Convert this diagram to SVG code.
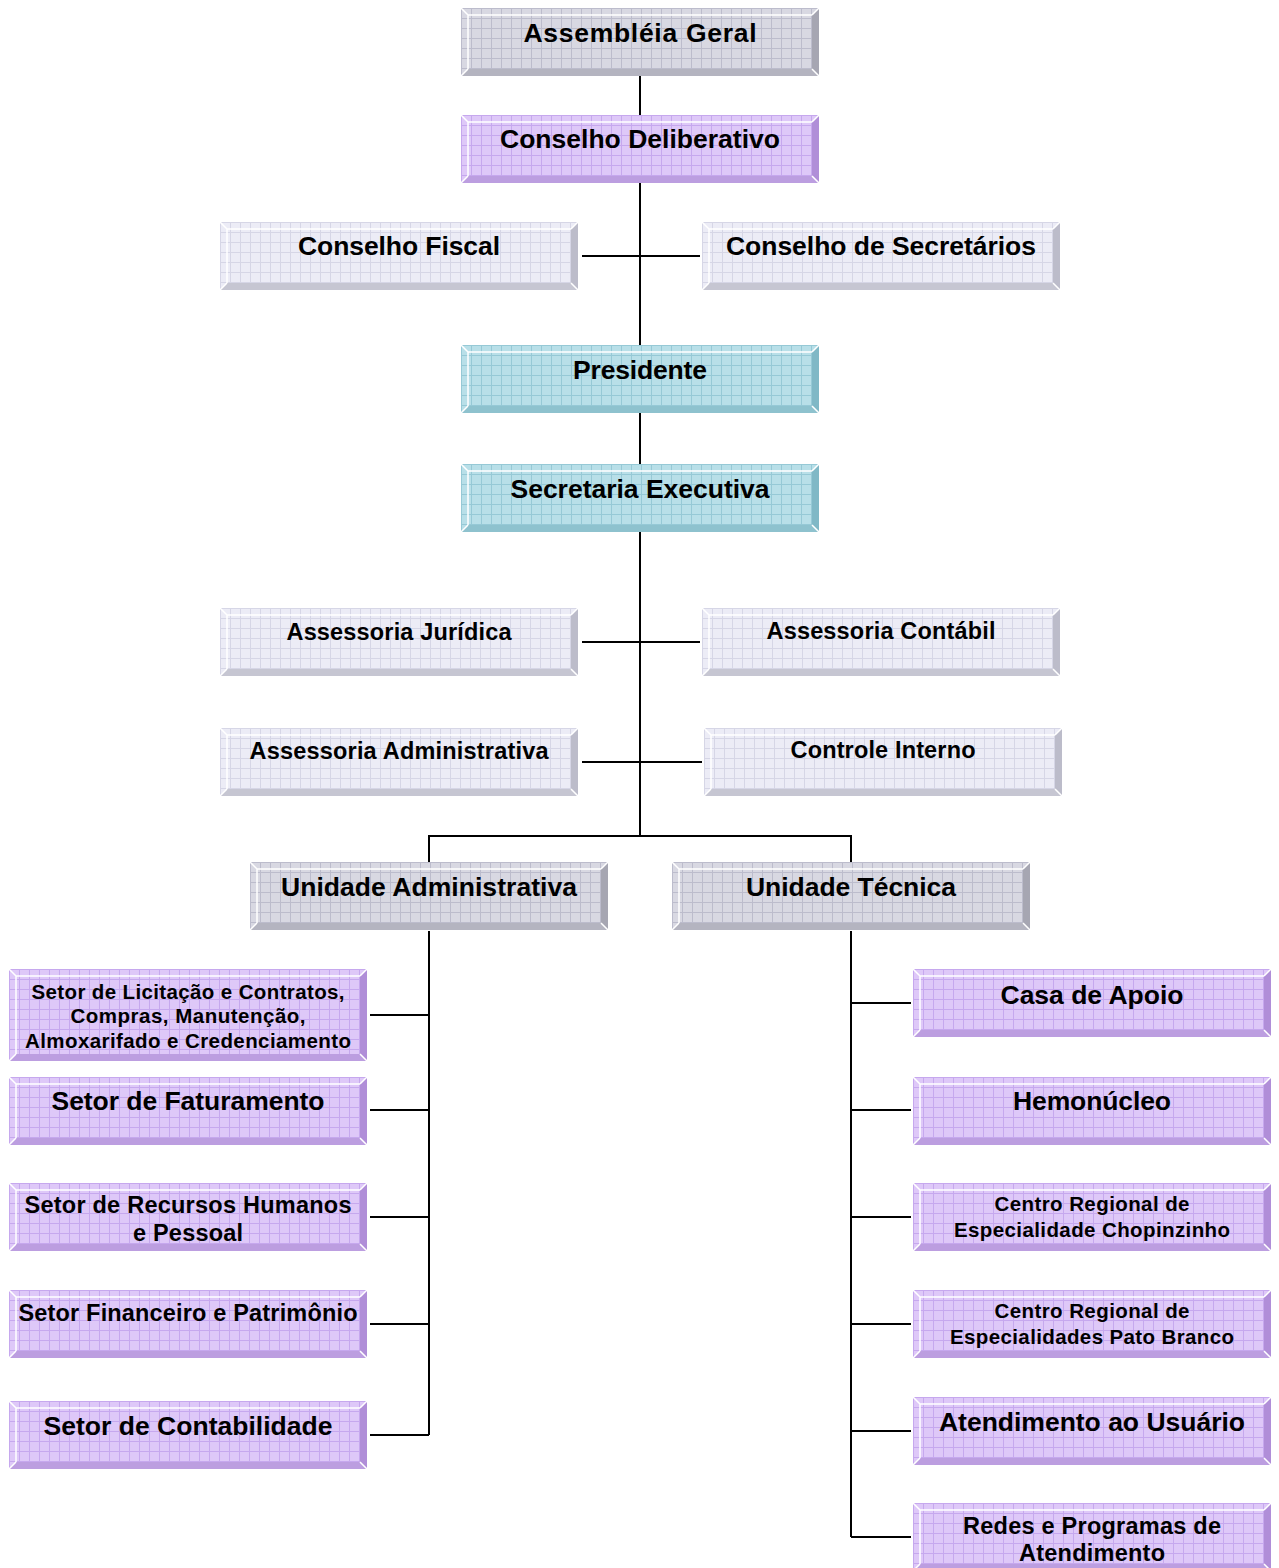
<svg xmlns="http://www.w3.org/2000/svg" xmlns:xlink="http://www.w3.org/1999/xlink" width="1279" height="1568" viewBox="0 0 1279 1568">
<style>
text{font-family:"Liberation Sans",Arial,sans-serif;font-weight:bold;fill:#000;text-anchor:middle}
.t1{font-size:26.5px}
.t2{font-size:23.5px}
.t3{font-size:20.5px}
.ln{stroke:#000;stroke-width:2;fill:none}
.w{fill:none;stroke:#fff;stroke-width:1.5}
</style>
<defs>
<pattern id="pg" width="10" height="10" patternUnits="userSpaceOnUse"><rect width="10" height="10" fill="#d8d8e2"/><path d="M0 .5H10M.5 0V10" stroke="#bcbccc" stroke-width="1"/></pattern>
<pattern id="pp" width="10" height="10" patternUnits="userSpaceOnUse"><rect width="10" height="10" fill="#dec8f8"/><path d="M0 .5H10M.5 0V10" stroke="#c6a8ee" stroke-width="1"/></pattern>
<pattern id="pt" width="10" height="10" patternUnits="userSpaceOnUse"><rect width="10" height="10" fill="#b8dfe8"/><path d="M0 .5H10M.5 0V10" stroke="#96c9d6" stroke-width="1"/></pattern>
<pattern id="pl" width="10" height="10" patternUnits="userSpaceOnUse"><rect width="10" height="10" fill="#ececf6"/><path d="M0 .5H10M.5 0V10" stroke="#d6d6e6" stroke-width="1"/></pattern>
<symbol id="bg" overflow="visible"><rect width="358" height="68" fill="url(#pg)"/><polygon points="358,0 358,68 351,61 351,7" fill="#a6a6b2"/><polygon points="0,68 7,61 351,61 358,68" fill="#b4b4c0"/><rect x="7" y="7" width="344" height="54" fill="url(#pg)"/><path class="w" d="M7 61V7H351M0 0L7 7M358 0L351 7M0 68L7 61M358 68L351 61"/></symbol>
<symbol id="bp" overflow="visible"><rect width="358" height="68" fill="url(#pp)"/><polygon points="358,0 358,68 351,61 351,7" fill="#b08ed8"/><polygon points="0,68 7,61 351,61 358,68" fill="#bc9ee0"/><rect x="7" y="7" width="344" height="54" fill="url(#pp)"/><path class="w" d="M7 61V7H351M0 0L7 7M358 0L351 7M0 68L7 61M358 68L351 61"/></symbol>
<symbol id="bp2" overflow="visible"><rect width="358" height="92" fill="url(#pp)"/><polygon points="358,0 358,92 351,85 351,7" fill="#b08ed8"/><polygon points="0,92 7,85 351,85 358,92" fill="#bc9ee0"/><rect x="7" y="7" width="344" height="78" fill="url(#pp)"/><path class="w" d="M7 85V7H351M0 0L7 7M358 0L351 7M0 92L7 85M358 92L351 85"/></symbol>
<symbol id="bt" overflow="visible"><rect width="358" height="68" fill="url(#pt)"/><polygon points="358,0 358,68 351,61 351,7" fill="#80b8c6"/><polygon points="0,68 7,61 351,61 358,68" fill="#8ec2ce"/><rect x="7" y="7" width="344" height="54" fill="url(#pt)"/><path class="w" d="M7 61V7H351M0 0L7 7M358 0L351 7M0 68L7 61M358 68L351 61"/></symbol>
<symbol id="bl" overflow="visible"><rect width="358" height="68" fill="url(#pl)"/><polygon points="358,0 358,68 351,61 351,7" fill="#bcbcca"/><polygon points="0,68 7,61 351,61 358,68" fill="#c6c6d2"/><rect x="7" y="7" width="344" height="54" fill="url(#pl)"/><path class="w" d="M7 61V7H351M0 0L7 7M358 0L351 7M0 68L7 61M358 68L351 61"/></symbol>
</defs>
<rect width="1279" height="1568" fill="#fff"/>
<g id="connectors">
<path class="ln" d="M640 75V115M640 183V345M582 256H700M640 412V464M640 532V836M582 642H700M582 762H702M429 862V836H851V862"/>
<path class="ln" d="M429 931V1435M370 1015H429M370 1110H429M370 1217H429M370 1324H429M370 1435H429"/>
<path class="ln" d="M851 931V1537M851 1003H911M851 1110H911M851 1217H911M851 1324H911M851 1431H911M851 1537H911"/>
</g>
<g id="n-assembleia"><use href="#bg" x="461" y="8"/><text class="t1" x="640" y="42" textLength="233" lengthAdjust="spacing">Assembléia Geral</text></g>
<g id="n-deliberativo"><use href="#bp" x="461" y="115"/><text class="t1" x="640" y="148" textLength="280" lengthAdjust="spacing">Conselho Deliberativo</text></g>
<g id="n-fiscal"><use href="#bl" x="220" y="222"/><text class="t1" x="399" y="255" textLength="202" lengthAdjust="spacing">Conselho Fiscal</text></g>
<g id="n-secretarios"><use href="#bl" x="702" y="222"/><text class="t1" x="881" y="255" textLength="310" lengthAdjust="spacing">Conselho de Secretários</text></g>
<g id="n-presidente"><use href="#bt" x="461" y="345"/><text class="t1" x="640" y="379" textLength="134" lengthAdjust="spacing">Presidente</text></g>
<g id="n-secretaria"><use href="#bt" x="461" y="464"/><text class="t1" x="640" y="498" textLength="259" lengthAdjust="spacing">Secretaria Executiva</text></g>
<g id="n-juridica"><use href="#bl" x="220" y="608"/><text class="t2" x="399" y="640" textLength="225" lengthAdjust="spacing">Assessoria Jurídica</text></g>
<g id="n-contabil"><use href="#bl" x="702" y="608"/><text class="t2" x="881" y="639" textLength="229" lengthAdjust="spacing">Assessoria Contábil</text></g>
<g id="n-administrativa"><use href="#bl" x="220" y="728"/><text class="t2" x="399" y="759" textLength="299" lengthAdjust="spacing">Assessoria Administrativa</text></g>
<g id="n-controle"><use href="#bl" x="704" y="728"/><text class="t2" x="883" y="758" textLength="185" lengthAdjust="spacing">Controle Interno</text></g>
<g id="n-unid-adm"><use href="#bg" x="250" y="862"/><text class="t1" x="429" y="896" textLength="296" lengthAdjust="spacing">Unidade Administrativa</text></g>
<g id="n-unid-tec"><use href="#bg" x="672" y="862"/><text class="t1" x="851" y="896" textLength="210" lengthAdjust="spacing">Unidade Técnica</text></g>
<g id="n-licitacao"><use href="#bp2" x="9" y="969"/><text class="t3" x="188" y="999" textLength="313" lengthAdjust="spacing">Setor de Licitação e Contratos,</text><text class="t3" x="188" y="1023" textLength="235" lengthAdjust="spacing">Compras, Manutenção,</text><text class="t3" x="188" y="1048" textLength="326" lengthAdjust="spacing">Almoxarifado e Credenciamento</text></g>
<g id="n-faturamento"><use href="#bp" x="9" y="1077"/><text class="t1" x="188" y="1110" textLength="273" lengthAdjust="spacing">Setor de Faturamento</text></g>
<g id="n-rh"><use href="#bp" x="9" y="1183"/><text class="t2" x="188" y="1213" textLength="327" lengthAdjust="spacing">Setor de Recursos Humanos</text><text class="t2" x="188" y="1241" textLength="110" lengthAdjust="spacing">e Pessoal</text></g>
<g id="n-financeiro"><use href="#bp" x="9" y="1290"/><text class="t2" x="188" y="1321" textLength="339" lengthAdjust="spacing">Setor Financeiro e Patrimônio</text></g>
<g id="n-contabilidade"><use href="#bp" x="9" y="1401"/><text class="t1" x="188" y="1435" textLength="289" lengthAdjust="spacing">Setor de Contabilidade</text></g>
<g id="n-casa"><use href="#bp" x="913" y="969"/><text class="t1" x="1092" y="1004" textLength="183" lengthAdjust="spacing">Casa de Apoio</text></g>
<g id="n-hemonucleo"><use href="#bp" x="913" y="1077"/><text class="t1" x="1092" y="1110" textLength="158" lengthAdjust="spacing">Hemonúcleo</text></g>
<g id="n-chopinzinho"><use href="#bp" x="913" y="1183"/><text class="t3" x="1092" y="1211" textLength="195" lengthAdjust="spacing">Centro Regional de</text><text class="t3" x="1092" y="1237" textLength="276" lengthAdjust="spacing">Especialidade Chopinzinho</text></g>
<g id="n-pato"><use href="#bp" x="913" y="1290"/><text class="t3" x="1092" y="1318" textLength="195" lengthAdjust="spacing">Centro Regional de</text><text class="t3" x="1092" y="1344" textLength="284" lengthAdjust="spacing">Especialidades Pato Branco</text></g>
<g id="n-atendimento"><use href="#bp" x="913" y="1397"/><text class="t1" x="1092" y="1431" textLength="306" lengthAdjust="spacing">Atendimento ao Usuário</text></g>
<g id="n-redes"><use href="#bp" x="913" y="1503"/><text class="t2" x="1092" y="1534" textLength="258" lengthAdjust="spacing">Redes e Programas de</text><text class="t2" x="1092" y="1561" textLength="146" lengthAdjust="spacing">Atendimento</text></g>
</svg>
